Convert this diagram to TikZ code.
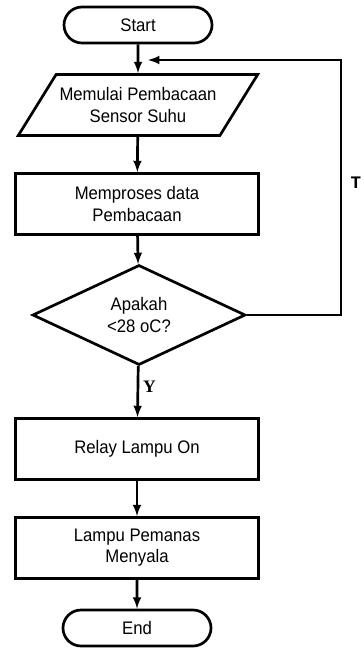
\documentclass[tikz,border=0pt]{standalone}
\usepackage{fontspec}
\setmainfont{Liberation Sans}[FakeStretch=0.92]
\newfontfamily\labelfont{Liberation Serif}
\newfontfamily\monofont{Liberation Mono}
\usetikzlibrary{arrows}
\usetikzlibrary{shapes.geometric,shapes.misc}
\usetikzlibrary{positioning}

\begin{document}
\begin{tikzpicture}[
	x=0.03cm, y=-0.03cm,
  > = latex,
  every node/.style = {font=\fontsize{15.5}{18}\selectfont, align=center},
  terminal/.style = {draw, line width=2.3pt, rounded rectangle, minimum width=4.44cm, minimum height=1.08cm, inner sep=0pt},
  inout/.style = {draw, line width=2.3pt, trapezium, trapezium left angle=45, trapezium right angle=135, trapezium stretches=true, minimum width=7.2cm, minimum height=1.83cm, inner sep=1pt},
  process/.style = {draw, line width=2.3pt, minimum width=7.29cm, minimum height=1.83cm},
  decision/.style = {draw, line width=2.3pt, diamond, minimum width=6.39cm, minimum height=3cm, inner sep=0pt},
  flow/.style = {->, line width=2.3pt}
  ]
	\useasboundingbox (0,0) rectangle (363,648);

	\node[terminal] (start) at (138,25) {Start};
	\node[inout]    (baca)  at (138,105) {Memulai Pembacaan\\Sensor Suhu};
	\node[process]  (proses) at (137,204) {Memproses data\\Pembacaan};
	\node[decision] (cek)   at (139,315) {Apakah\\\textless28 oC?};
	\node[process]  (relay) at (137,449) {Relay Lampu On};
	\node[process]  (lampu) at (137,548) {Lampu Pemanas\\Menyala};
	\node[terminal] (end)   at (137,628) {End};

	\coordinate (kanan) at (341,315);
	\coordinate (atas)  at (341,60);
	\coordinate (masuk) at (148,60);

	\draw[flow] (start) -- (baca);
	\draw[flow] (baca) -- (proses);
	\draw[flow] (proses) -- (cek);
	\draw[flow] (cek) -- node[right, pos=0.4, font=\labelfont\bfseries\fontsize{15}{17}\selectfont] {Y} (relay);
	\draw[flow] (relay) -- (lampu);
	\draw[flow] (lampu) -- (end);

	\draw[flow] (cek.east) -- (kanan) -- (atas) -- (masuk);
	\node[font=\monofont\bfseries\fontsize{15}{17}\selectfont] (tidak) at (356,183) {T};
\end{tikzpicture}
\end{document}
